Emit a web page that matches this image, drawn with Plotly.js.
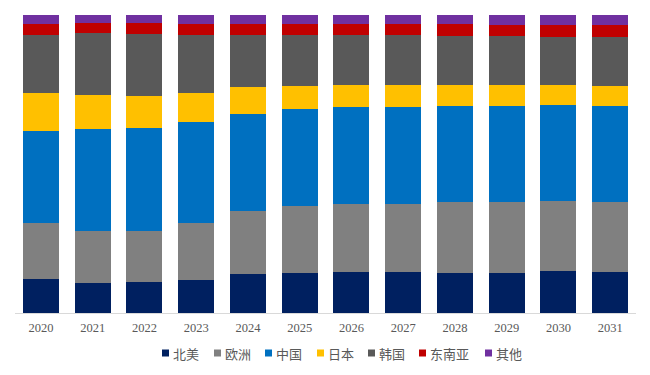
<!DOCTYPE html>
<html>
<head>
<meta charset="utf-8">
<script src="https://cdn.plot.ly/plotly-3.0.1.min.js"></script>
<style>html,body{margin:0;padding:0;background:#fff;}#chart{width:650px;height:375px;}</style>
</head>
<body>
<div id="chart"></div>
<script>
const years = ['2020','2021','2022','2023','2024','2025','2026','2027','2028','2029','2030','2031'];
const seriesNames = ['北美','欧洲','中国','日本','韩国','东南亚','其他'];
const northAmerica = [11.5,10.2,10.5,11.1,13.1,13.4,13.8,13.8,13.5,13.5,14.2,13.9];
const europe       = [18.8,17.3,17.0,19.2,21.1,22.5,22.8,22.8,23.7,23.7,23.4,23.4];
const china        = [30.9,34.2,34.6,33.8,32.6,32.6,32.4,32.5,32.2,32.2,32.2,32.2];
const japan        = [12.8,11.4,10.7,9.7,9.0,7.7,7.5,7.4,7.2,7.2,6.8,6.8];
const korea        = [19.4,20.7,20.8,19.5,17.6,17.1,16.9,16.8,16.4,16.4,16.1,16.4];
const seAsia       = [3.7,3.4,3.8,3.7,3.7,3.7,3.6,3.7,3.9,3.7,4.0,4.0];
const others       = [3.0,2.8,2.6,3.0,3.0,3.0,3.0,3.0,3.0,3.3,3.3,3.3];
const colors = ['#002060','#808080','#0070C0','#FFC000','#595959','#C00000','#7030A0'];

const allValues = [northAmerica, europe, china, japan, korea, seAsia, others];
const traces = allValues.map((vals, i) => ({
  type: 'bar', x: years, y: vals, name: seriesNames[i],
  marker: {color: colors[i], line: {width: 0}},
  hoverinfo: 'x+y+name'
}));

// custom legend (pixel layout converted to paper coords)
const W = 650, H = 375, mL = 15, mR = 14, mT = 15, mB = 62;
const pw = W - mL - mR, ph = H - mT - mB;
const px2x = p => (p - mL) / pw;
const py2y = p => (H - mB - p) / ph;
const legendLeft = [162, 214, 265, 317, 368, 419, 485];
const legendY = 353;
const shapes = [], annotations = [];
seriesNames.forEach((n, i) => {
  shapes.push({type: 'rect', xref: 'paper', yref: 'paper',
    x0: px2x(legendLeft[i]), x1: px2x(legendLeft[i] + 7),
    y0: py2y(legendY + 3.5), y1: py2y(legendY - 3.5),
    fillcolor: colors[i], line: {width: 0}});
  annotations.push({xref: 'paper', yref: 'paper', x: px2x(legendLeft[i] + 9), y: py2y(legendY),
    xanchor: 'left', yanchor: 'middle', showarrow: false, text: n,
    font: {family: '"Noto Sans CJK SC", sans-serif', size: 13, color: '#595959'}});
});

const layout = {
  width: W, height: H,
  margin: {l: mL, r: mR, t: mT, b: mB},
  paper_bgcolor: '#ffffff', plot_bgcolor: '#ffffff',
  barmode: 'stack', barnorm: 'percent', bargap: 0.3,
  showlegend: false,
  xaxis: {type: 'category', showline: true, linecolor: '#D9D9D9', linewidth: 1,
    ticks: '', showgrid: false, zeroline: false, ticklabelstandoff: 3,
    tickfont: {family: '"Liberation Serif", "Times New Roman", serif', size: 12.5, color: '#595959'}},
  yaxis: {range: [0, 100], visible: false, showgrid: false, zeroline: false},
  shapes: shapes, annotations: annotations
};
Plotly.newPlot('chart', traces, layout, {displayModeBar: false, staticPlot: true});
</script>
</body>
</html>
